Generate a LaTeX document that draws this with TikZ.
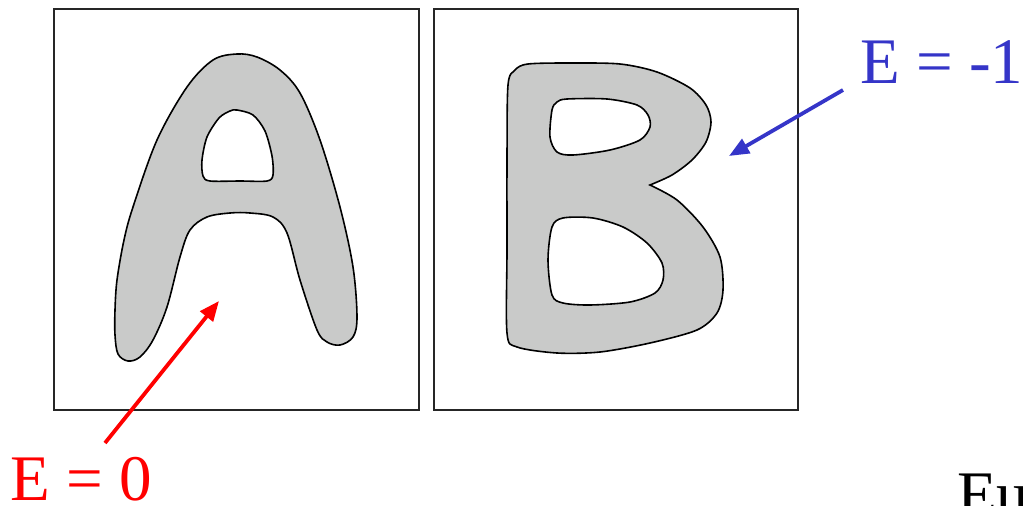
\documentclass[tikz,border=0pt]{standalone}
\usepackage{fontspec}
\setmainfont{Liberation Serif}
\usetikzlibrary{arrows.meta}
\definecolor{shapegray}{HTML}{C9CAC9}
\definecolor{lblblue}{HTML}{3535C8}
\tikzset{
  panel/.style={draw=black!85, line width=1.6pt},
  letter/.style={fill=shapegray, draw=black, line width=1.6pt, even odd rule},
  lbl/.style={inner sep=0pt, anchor=base west, font=\fontsize{65}{65}\selectfont},
  pointer/.style={line width=3.8pt, -{Triangle[length=20pt,width=16pt]}},
}
\begin{document}
\begin{tikzpicture}[x=1pt,y=-1pt]
\useasboundingbox (0,0) rectangle (1023,506);
\clip (0,0) rectangle (1023,506);
% panels
\node[panel, minimum width=365pt, minimum height=401pt, inner sep=0pt, anchor=north west] (boxA) at (53,8) {};
\node[panel, minimum width=364pt, minimum height=401pt, inner sep=0pt, anchor=north west] (boxB) at (433,8) {};
% letter A
\path[letter]
 plot[smooth cycle, tension=0.55] coordinates {
 (117,280) (124,240) (133,207) (157,140) (187,87) (213,60) (237,54) (257,57)
 (280,70) (300,93) (320,140) (340,207) (353,267) (357,317) (353,337) (340,345)
 (327,342) (317,330) (300,280) (287,233) (273,217) (250,213) (230,213) (207,217)
 (190,230) (180,257) (167,307) (153,340) (140,357) (128,361) (118,354) (115,335) (115,310)}
 plot[smooth cycle, tension=0.5] coordinates {
 (237,110) (253,115) (265,131) (272,156) (273,175) (267,181) (240,181) (210,181)
 (203,176) (202,160) (207,137) (219,118) (230,111)};
% letter B
\path[letter]
 plot[smooth, tension=0.5] coordinates {
 (650,185) (677,200) (703,227) (720,257) (723,290)
 (717,313) (697,330) (650,343) (600,352) (557,353) (517,347) (507,333)
 (507,250) (507,160) (508,85) (515,70) (528,64) (570,63) (620,64) (657,72) (690,88) (706,105) (711,122) (706,142)
 (692,160) (672,175) (650,185)} -- cycle
 plot[smooth cycle, tension=0.5] coordinates {
 (567,99) (607,99) (637,105) (648,115) (650,127) (640,140) (610,150) (573,155)
 (557,152) (550,137) (552,110) (557,102)}
 plot[smooth cycle, tension=0.5] coordinates {
 (563,218) (593,218) (623,227) (647,243) (662,263) (663,280) (655,293) (630,302)
 (590,305) (563,303) (552,295) (548,260) (552,227)};
% labels
\node[lbl, text=red] (e0) at (10,500) {E = 0};
\node[lbl, text=lblblue] (em1) at (860,83) {E = -1};
\node[lbl, text=black] (eu) at (957,516) {Eu};
% pointers
\coordinate (r0) at (105,443);
\coordinate (r1) at (219,301);
\coordinate (b0) at (843,90);
\coordinate (b1) at (729,156);
\draw[pointer, red] (r0) -- (r1);
\draw[pointer, lblblue] (b0) -- (b1);
\end{tikzpicture}
\end{document}
